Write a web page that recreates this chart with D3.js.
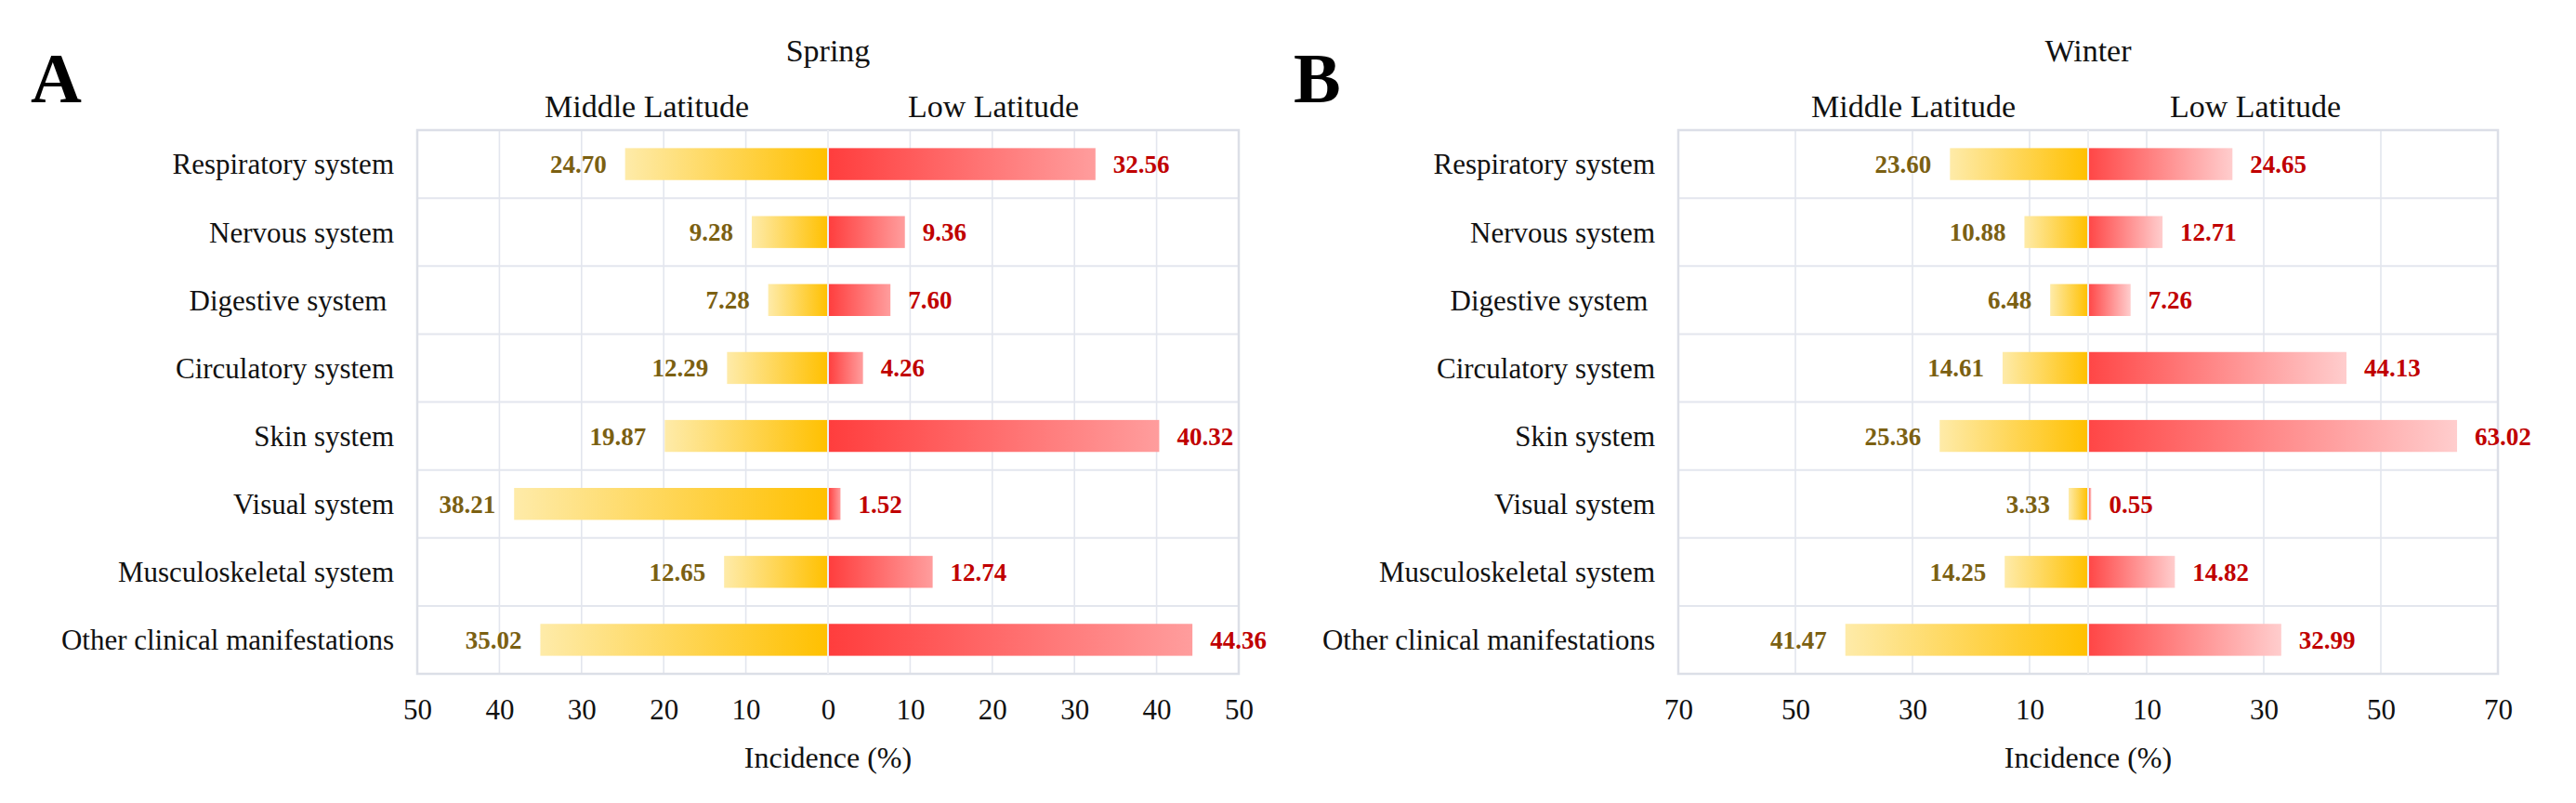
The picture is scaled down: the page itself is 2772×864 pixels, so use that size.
<!DOCTYPE html>
<html>
<head>
<meta charset="utf-8">
<script src="https://cdn.jsdelivr.net/npm/d3@7/dist/d3.min.js"></script>
<style>
  html, body { margin: 0; padding: 0; background: #fff; }
  svg { display: block; }
  text { font-family: "Liberation Serif", "Times New Roman", serif; }
</style>
</head>
<body>
<svg id="chart" width="2772" height="864"></svg>
<script>
// ---- data ----
const categories = ["Respiratory system", "Nervous system", "Digestive system ", "Circulatory system",
  "Skin system", "Visual system", "Musculoskeletal system", "Other clinical manifestations"];
const springMiddle = [24.70, 9.28, 7.28, 12.29, 19.87, 38.21, 12.65, 35.02];
const springLow    = [32.56, 9.36, 7.60, 4.26, 40.32, 1.52, 12.74, 44.36];
const winterMiddle = [23.60, 10.88, 6.48, 14.61, 25.36, 3.33, 14.25, 41.47];
const winterLow    = [24.65, 12.71, 7.26, 44.13, 63.02, 0.55, 14.82, 32.99];
const springTicks = [-50, -40, -30, -20, -10, 0, 10, 20, 30, 40, 50];
const springTickLabels = ["50", "40", "30", "20", "10", "0", "10", "20", "30", "40", "50"];
const winterTicks = [-70, -50, -30, -10, 0, 10, 30, 50, 70];
const winterTickLabels = ["70", "50", "30", "10", "", "10", "30", "50", "70"];
const panelLetters = ["A", "B"];
const seasons = ["Spring", "Winter"];
const groupNames = ["Middle Latitude", "Low Latitude"];
const axisTitle = "Incidence (%)";

(function () {
const svg = d3.select("#chart");
const defs = svg.append("defs");

function gradient(id, c0, c1) {
  const g = defs.append("linearGradient").attr("id", id)
    .attr("x1", "0%").attr("x2", "100%").attr("y1", "0%").attr("y2", "0%");
  g.append("stop").attr("offset", "0%").attr("stop-color", c0);
  g.append("stop").attr("offset", "100%").attr("stop-color", c1);
}
gradient("gYellow", "#feeba9", "#ffc000");
gradient("gRedA", "#ff3d3d", "#ff9d9d");
gradient("gRedB", "#ff4646", "#ffcdcd");

const panels = [
  { letter: panelLetters[0], season: seasons[0], mid: springMiddle, low: springLow, max: 50,
    ticks: springTicks, tickLabels: springTickLabels, left: 449, right: 1333, letterX: 33,
    midOff: -195, lowOff: 178, red: "url(#gRedA)" },
  { letter: panelLetters[1], season: seasons[1], mid: winterMiddle, low: winterLow, max: 70,
    ticks: winterTicks, tickLabels: winterTickLabels, left: 1806, right: 2688, letterX: 1392,
    midOff: -188, lowOff: 180, red: "url(#gRedB)" }
];

const plotTop = 140, plotBottom = 725;

panels.forEach(p => {
  const g = svg.append("g");
  const x = d3.scaleLinear().domain([-p.max, p.max]).range([p.left, p.right]);
  const y = d3.scaleBand().domain(categories).range([plotTop, plotBottom]).paddingInner(0).paddingOuter(0);
  const bh = y.bandwidth() * 0.47;
  const x0 = x(0);

  g.append("text").attr("x", p.letterX).attr("y", 110)
    .attr("font-size", 76).attr("font-weight", "bold").attr("fill", "#000").text(p.letter);
  g.append("text").attr("x", x0).attr("y", 66).attr("text-anchor", "middle")
    .attr("font-size", 34).attr("fill", "#111").text(p.season);
  g.append("text").attr("x", x0 + p.midOff).attr("y", 126).attr("text-anchor", "middle")
    .attr("font-size", 34).attr("fill", "#111").text(groupNames[0]);
  g.append("text").attr("x", x0 + p.lowOff).attr("y", 126).attr("text-anchor", "middle")
    .attr("font-size", 34).attr("fill", "#111").text(groupNames[1]);

  g.append("g").selectAll("line").data(p.ticks).join("line")
    .attr("x1", d => x(d)).attr("x2", d => x(d)).attr("y1", plotTop).attr("y2", plotBottom)
    .attr("stroke", "#e3e6ee").attr("stroke-width", 1.6);
  const bounds = categories.slice(1).map(c => y(c));
  g.append("g").selectAll("line").data(bounds).join("line")
    .attr("x1", p.left).attr("x2", p.right).attr("y1", d => d).attr("y2", d => d)
    .attr("stroke", "#e3e6ee").attr("stroke-width", 2);
  g.append("rect").attr("x", p.left).attr("y", plotTop).attr("width", p.right - p.left)
    .attr("height", plotBottom - plotTop).attr("fill", "none").attr("stroke", "#dcdfe7").attr("stroke-width", 2.5);

  g.append("g").selectAll("rect").data(categories).join("rect")
    .attr("x", (c, i) => x(-p.mid[i])).attr("width", (c, i) => x0 - x(-p.mid[i]))
    .attr("y", c => y(c) + (y.bandwidth() - bh) / 2).attr("height", bh)
    .attr("fill", "url(#gYellow)");
  g.append("g").selectAll("rect").data(categories).join("rect")
    .attr("x", x0).attr("width", (c, i) => x(p.low[i]) - x0)
    .attr("y", c => y(c) + (y.bandwidth() - bh) / 2).attr("height", bh)
    .attr("fill", p.red);
  g.append("line").attr("x1", x0).attr("x2", x0).attr("y1", plotTop).attr("y2", plotBottom)
    .attr("stroke", "#eceef3").attr("stroke-width", 2);

  g.append("g").selectAll("text").data(categories).join("text")
    .attr("x", (c, i) => x(-p.mid[i]) - 20).attr("y", c => y(c) + y.bandwidth() / 2)
    .attr("dy", "0.35em").attr("text-anchor", "end")
    .attr("font-size", 27).attr("font-weight", "bold").attr("fill", "#7b6012")
    .text((c, i) => p.mid[i].toFixed(2));
  g.append("g").selectAll("text").data(categories).join("text")
    .attr("x", (c, i) => x(p.low[i]) + 19).attr("y", c => y(c) + y.bandwidth() / 2)
    .attr("dy", "0.35em").attr("text-anchor", "start")
    .attr("font-size", 27).attr("font-weight", "bold").attr("fill", "#c00000")
    .text((c, i) => p.low[i].toFixed(2));

  g.append("g").selectAll("text").data(categories).join("text")
    .attr("x", p.left - 25).attr("y", c => y(c) + y.bandwidth() / 2)
    .attr("dy", "0.35em").attr("text-anchor", "end")
    .attr("font-size", 31).attr("fill", "#111").style("white-space", "pre")
    .text(c => c);

  const axis = d3.axisBottom(x).tickValues(p.ticks).tickSize(0)
    .tickFormat((d, i) => p.tickLabels[i]);
  const ag = g.append("g").attr("transform", `translate(0,${plotBottom})`).call(axis);
  ag.select(".domain").remove();
  ag.selectAll("text").attr("font-size", 31).attr("fill", "#111")
    .attr("font-family", "Liberation Serif, Times New Roman, serif")
    .attr("y", 49).attr("dy", 0);
  g.append("text").attr("x", x0).attr("y", 826).attr("text-anchor", "middle")
    .attr("font-size", 32).attr("fill", "#111").text(axisTitle);
});
})();
</script>
</body>
</html>
